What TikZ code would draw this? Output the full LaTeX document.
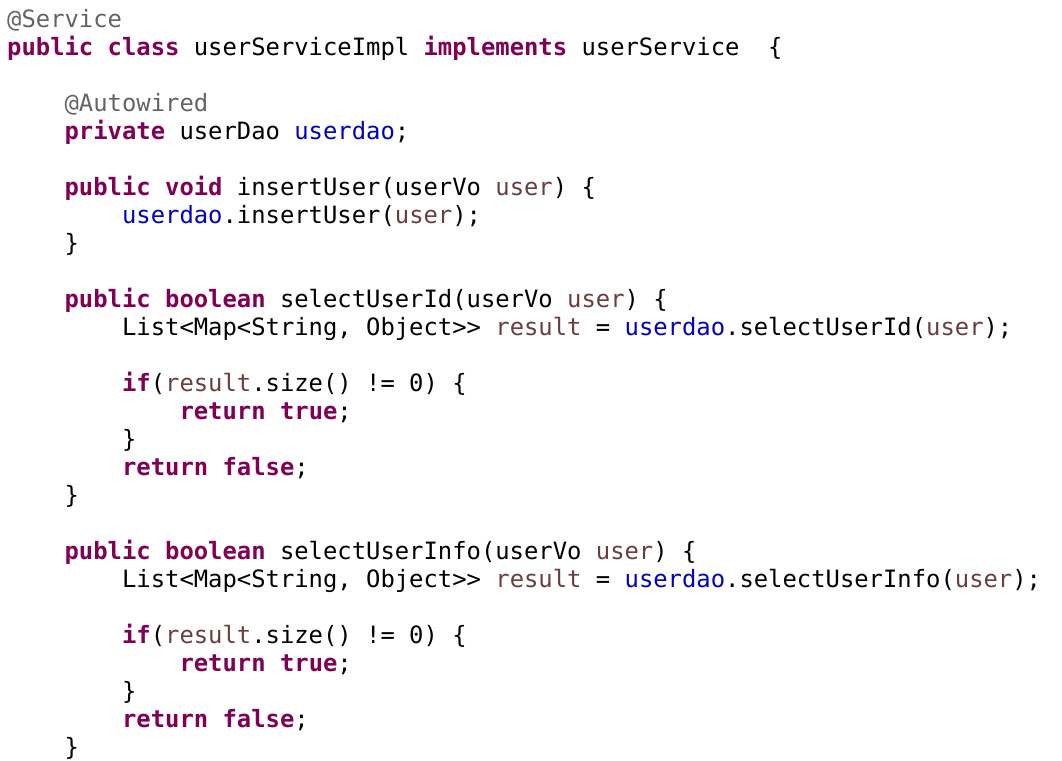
\documentclass[tikz,border=0pt]{standalone}
\usepackage{fontspec}
\usepackage{xcolor}
\newfontfamily\codefont{DejaVu Sans Mono}[WordSpace={1,0,0}]
\definecolor{kwc}{HTML}{7F0055}
\definecolor{anc}{HTML}{646464}
\definecolor{fdc}{HTML}{0000C0}
\definecolor{lvc}{HTML}{6A3E3E}
\newcommand{\kw}[1]{\textcolor{kwc}{\bfseries #1}}
\newcommand{\an}[1]{\textcolor{anc}{#1}}
\newcommand{\fd}[1]{\textcolor{fdc}{#1}}
\newcommand{\lv}[1]{\textcolor{lvc}{#1}}
\tikzset{codeline/.style={anchor=base west, inner sep=0pt, font=\codefont\fontsize{23.85}{28}\selectfont\frenchspacing, text=black}}
\begin{document}
\begin{tikzpicture}[x=1pt,y=-1pt]
\useasboundingbox (0,0) rectangle (1062,760);
\def\cw{14.36}
\node[codeline] (l1) at (7,27.5) {\an{@Service}};
\node[codeline] (l2) at (7,55.5) {\kw{public} \kw{class} userServiceImpl \kw{implements} userService\ \ \{};
\node[codeline] (l4) at (7+4*\cw,111.5) {\an{@Autowired}};
\node[codeline] (l5) at (7+4*\cw,139.5) {\kw{private} userDao \fd{userdao};};
\node[codeline] (l7) at (7+4*\cw,195.5) {\kw{public} \kw{void} insertUser(userVo \lv{user}) \{};
\node[codeline] (l8) at (7+8*\cw,223.5) {\fd{userdao}.insertUser(\lv{user});};
\node[codeline] (l9) at (7+4*\cw,251.5) {\}};
\node[codeline] (l11) at (7+4*\cw,307.5) {\kw{public} \kw{boolean} selectUserId(userVo \lv{user}) \{};
\node[codeline] (l12) at (7+8*\cw,335.5) {List<Map<String, Object>{}> \lv{result} = \fd{userdao}.selectUserId(\lv{user});};
\node[codeline] (l14) at (7+8*\cw,391.5) {\kw{if}(\lv{result}.size() != 0) \{};
\node[codeline] (l15) at (7+12*\cw,419.5) {\kw{return} \kw{true};};
\node[codeline] (l16) at (7+8*\cw,447.5) {\}};
\node[codeline] (l17) at (7+8*\cw,475.5) {\kw{return} \kw{false};};
\node[codeline] (l18) at (7+4*\cw,503.5) {\}};
\node[codeline] (l20) at (7+4*\cw,559.5) {\kw{public} \kw{boolean} selectUserInfo(userVo \lv{user}) \{};
\node[codeline] (l21) at (7+8*\cw,587.5) {List<Map<String, Object>{}> \lv{result} = \fd{userdao}.selectUserInfo(\lv{user});};
\node[codeline] (l23) at (7+8*\cw,643.5) {\kw{if}(\lv{result}.size() != 0) \{};
\node[codeline] (l24) at (7+12*\cw,671.5) {\kw{return} \kw{true};};
\node[codeline] (l25) at (7+8*\cw,699.5) {\}};
\node[codeline] (l26) at (7+8*\cw,727.5) {\kw{return} \kw{false};};
\node[codeline] (l27) at (7+4*\cw,755.5) {\}};
\end{tikzpicture}
\end{document}
